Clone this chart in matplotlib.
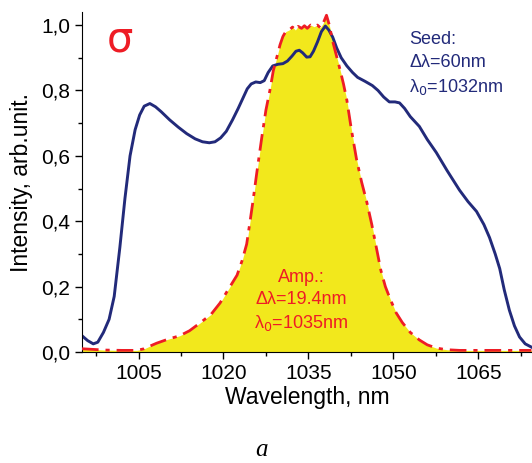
import matplotlib.pyplot as plt
from matplotlib.ticker import MultipleLocator, FuncFormatter

plt.rcParams['font.family'] = ['Liberation Sans', 'DejaVu Sans']

# seed spectrum (blue)
seed_wl = [995, 996, 997, 997.8, 998.8, 999.8, 1000.7, 1001.7, 1002.6, 1003.5, 1004.4,
           1005.2, 1006, 1007, 1008, 1009, 1010.5, 1012, 1013.5, 1015, 1016.3, 1017.5,
           1018.5, 1019.5, 1020.5, 1021.6, 1022.6, 1023.4, 1024.2, 1024.9, 1025.7, 1026.5,
           1027.2, 1027.9, 1028.7, 1029.6, 1030.5, 1031.3, 1032.1, 1032.8, 1033.4, 1034,
           1034.7, 1035.3, 1035.9, 1036.6, 1037.3, 1038, 1038.6, 1039.3, 1040, 1040.8,
           1041.8, 1042.8, 1043.7, 1045, 1046.3, 1047.3, 1048.3, 1049.3, 1050.3, 1051.1,
           1052, 1053, 1054.6, 1056, 1057.6, 1059.5, 1061.7, 1063.2, 1064.7, 1066, 1067,
           1068, 1068.8, 1069.6, 1070.5, 1071.4, 1072.3, 1073.3, 1074.4]
seed_int = [0.05, 0.035, 0.025, 0.03, 0.06, 0.1, 0.17, 0.32, 0.47, 0.6, 0.68,
            0.725, 0.752, 0.76, 0.75, 0.735, 0.71, 0.688, 0.668, 0.652, 0.643, 0.64,
            0.643, 0.655, 0.675, 0.71, 0.745, 0.775, 0.805, 0.82, 0.826, 0.824,
            0.83, 0.855, 0.875, 0.88, 0.882, 0.89, 0.905, 0.92, 0.923, 0.915,
            0.902, 0.903, 0.92, 0.948, 0.98, 0.997, 0.985, 0.963, 0.93, 0.9,
            0.875, 0.855, 0.84, 0.828, 0.815, 0.8, 0.78, 0.765, 0.765, 0.762,
            0.745, 0.72, 0.69, 0.65, 0.61, 0.555, 0.495, 0.46, 0.43, 0.39, 0.35,
            0.3, 0.255, 0.19, 0.128, 0.08, 0.046, 0.025, 0.015]

# amplified spectrum (red, filled)
amp_wl = [995, 997, 999, 1002, 1004.7, 1006, 1007, 1008.2, 1010, 1012.3, 1014,
          1015.8, 1017.8, 1019.4, 1020.8, 1022.4, 1023.3, 1024.1, 1024.7, 1025.2, 1025.9,
          1026.8, 1027.5, 1028.2, 1028.8, 1029.4, 1030, 1030.5, 1031, 1031.6, 1032.2,
          1032.7, 1033.2, 1033.8, 1034.3, 1034.8, 1035.4, 1036, 1036.6, 1037.1, 1037.6,
          1038.2, 1038.7, 1039.3, 1039.9, 1040.5, 1041.2, 1041.8, 1042.6, 1043.5, 1044.4,
          1045.3, 1046.2, 1047, 1047.8, 1048.6, 1049.5, 1050.5, 1051.6, 1053, 1054.6,
          1056, 1057.6, 1059.5, 1061.7, 1066, 1070, 1074.4]
amp_int = [0.01, 0.008, 0.006, 0.005, 0.005, 0.01, 0.018, 0.027, 0.038, 0.05, 0.065,
           0.088, 0.115, 0.15, 0.19, 0.235, 0.28, 0.33, 0.4, 0.46, 0.55,
           0.66, 0.74, 0.8, 0.86, 0.9, 0.94, 0.965, 0.98, 0.985, 0.994,
           0.985, 0.996, 0.99, 0.998, 0.99, 1.0, 0.995, 1.0, 0.992, 1.005,
           1.03, 1.0, 0.95, 0.91, 0.87, 0.82, 0.77, 0.68, 0.59, 0.52,
           0.46, 0.39, 0.32, 0.25, 0.2, 0.16, 0.12, 0.09, 0.06, 0.037,
           0.022, 0.012, 0.007, 0.005, 0.005, 0.005, 0.005]

navy = '#222a7a'
red = '#ee1c25'
yellow = '#f2e81c'

fig = plt.figure(figsize=(5.32, 4.63), dpi=100)
ax = fig.add_axes([0.154, 0.2397, 0.846, 0.7344])

ax.fill_between(amp_wl, amp_int, 0, color=yellow, linewidth=0, zorder=1)
ax.plot(amp_wl, amp_int, color=red, linewidth=2.0, linestyle=(0, (6, 2.5, 1.5, 2.5)), zorder=3)
ax.plot(seed_wl, seed_int, color=navy, linewidth=2.1, zorder=2)

ax.set_xlim(995, 1074.5)
ax.set_ylim(0, 1.04)
ax.spines['top'].set_visible(False)
ax.spines['right'].set_visible(False)
ax.xaxis.set_major_locator(MultipleLocator(15))
ax.xaxis.set_minor_locator(MultipleLocator(7.5))
ax.yaxis.set_major_locator(MultipleLocator(0.2))
ax.yaxis.set_minor_locator(MultipleLocator(0.1))
ax.yaxis.set_major_formatter(FuncFormatter(lambda v, p: f'{v:.1f}'.replace('.', ',')))
ax.tick_params(which='major', direction='out', length=5, width=1, labelsize=15)
ax.tick_params(which='minor', direction='out', length=3, width=1)
ax.set_xlabel('Wavelength, nm', fontsize=16.5, labelpad=2)
ax.set_ylabel('Intensity, arb.unit.', fontsize=16.5, labelpad=6)

ax.text(0.084, 0.92, 'σ', transform=ax.transAxes, color=red, fontsize=30,
        ha='center', va='center', family=['DejaVu Sans'])
ax.text(0.727, 0.92, 'Seed:', transform=ax.transAxes, color=navy, fontsize=13, ha='left', va='center')
ax.text(0.727, 0.85, 'Δλ=60nm', transform=ax.transAxes, color=navy, fontsize=13, ha='left', va='center')
ax.text(0.727, 0.78, 'λ$_0$=1032nm', transform=ax.transAxes, color=navy, fontsize=13, ha='left', va='center')
ax.text(0.487, 0.22, 'Amp.:', transform=ax.transAxes, color=red, fontsize=13, ha='center', va='center')
ax.text(0.487, 0.153, 'Δλ=19.4nm', transform=ax.transAxes, color=red, fontsize=13, ha='center', va='center')
ax.text(0.487, 0.085, 'λ$_0$=1035nm', transform=ax.transAxes, color=red, fontsize=13, ha='center', va='center')

fig.text(262 / 532, 1 - 450 / 463, 'a', fontsize=18, style='italic', family='Liberation Serif',
         ha='center', va='center')

fig.savefig('out.png', dpi=100)
